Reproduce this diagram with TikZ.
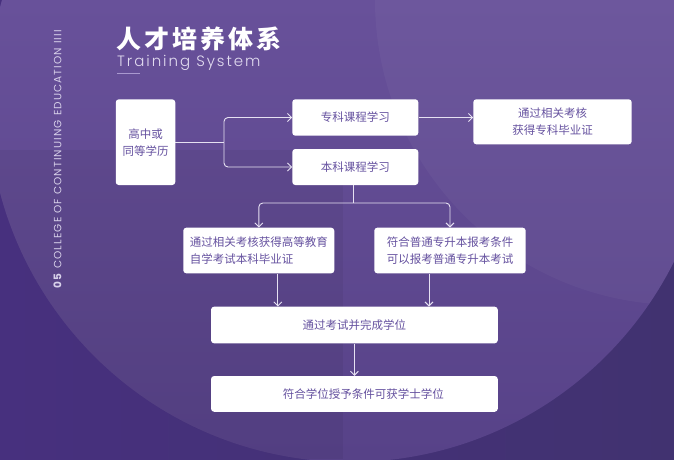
\documentclass[tikz,border=0pt]{standalone}
\usepackage{fontspec}
\setmainfont{Poppins}
\newfontfamily\cjk{Noto Sans CJK SC}
\newfontfamily\popl{Poppins Light}
\usetikzlibrary{arrows.meta}
\definecolor{bgBL}{HTML}{47307E}
\definecolor{bgBR}{HTML}{413270}
\definecolor{cTop}{HTML}{68519A}
\definecolor{cBot}{HTML}{574288}
\definecolor{txt}{HTML}{65519F}
\definecolor{lineC}{HTML}{E6E1F2}
\definecolor{subC}{HTML}{E2DCF0}
\definecolor{vertC}{HTML}{D8D1EA}
\definecolor{dashC}{HTML}{A999CF}
\tikzset{
  box/.style={fill=white, rounded corners=3pt, inner sep=0pt, text=txt,
    font=\cjk\fontsize{11.5}{17}\selectfont},
  arr/.style={draw=lineC, line width=0.9pt, -{Straight Barb[length=4pt,width=8pt]}},
  ln/.style={draw=lineC, line width=0.9pt},
}
\begin{document}
\begin{tikzpicture}[x=1pt,y=-1pt]
\useasboundingbox (0,0) rectangle (674,459);
% background
\shade[left color=bgBL, right color=bgBR] (0,0) rectangle (674,459);
\begin{scope}
  \clip (0,0) rectangle (674,459);
  \clip (350,100) circle[radius=362];
  \shade[top color=cTop, bottom color=cBot] (0,0) rectangle (674,459);
  \fill[black, opacity=0.05] (0,150) rectangle (343,459);
  \fill[white, opacity=0.035] (680,0) circle[radius=305];
\end{scope}
% side label
\node[rotate=90, anchor=west, inner sep=0pt, text=vertC,
  font=\fontsize{10.5}{10.5}\selectfont\addfontfeature{LetterSpace=11}] (side) at (57.5,289)
  {\textbf{05} COLLEGE OF CONTINUING EDUCATION IIII};
% title
\node[anchor=west, inner sep=0pt, text=white,
  font=\cjk\bfseries\fontsize{25}{25}\selectfont\addfontfeature{LetterSpace=12}] (title) at (116,39) {人才培养体系};
\node[anchor=base west, inner sep=0pt, text=subC,
  font=\popl\fontsize{15}{15}\selectfont\addfontfeature{LetterSpace=13}] (sub) at (117,66.7) {Training System};
\coordinate (u1) at (117,73.3);
\coordinate (u2) at (140,73.3);
\draw[dashC, line width=1.4pt] (u1) -- (u2);
% boxes
\node[box, minimum width=59.5pt, minimum height=85.7pt, align=center] (A) at (145.5,142.2) {高中或\\同等学历};
\node[box, minimum width=126pt, minimum height=36.4pt] (B) at (355.3,117.5) {专科课程学习};
\node[box, minimum width=126pt, minimum height=36pt] (C) at (355.3,167) {本科课程学习};
\node[box, minimum width=158.4pt, minimum height=45pt, align=center] (D) at (552.5,121.8) {通过相关考核\\获得专科毕业证};
\node[box, minimum width=151pt, minimum height=45.6pt, align=left] (E) at (258.8,250.5) {通过相关考核获得高等教育\\自学考试本科毕业证};
\node[box, minimum width=151.4pt, minimum height=45.6pt, align=center] (F) at (450,250.5) {符合普通专升本报考条件\\可以报考普通专升本考试};
\node[box, minimum width=286.7pt, minimum height=36.6pt] (G) at (354.4,325) {通过考试并完成学位};
\node[box, minimum width=286.7pt, minimum height=35.7pt] (H) at (354.4,393.9) {\hspace{18pt}符合学位授予条件可获学士学位};
% connectors
\coordinate (j) at (224,142.5);
\draw[ln] (A.east |- j) -- (j);
\draw[arr, rounded corners=4pt] (j) |- (B.west);
\draw[arr, rounded corners=4pt] (j) |- (C.west);
\draw[arr] (B.east) -- (B.east -| D.west);
\coordinate (k) at (353,203);
\draw[ln] (C.south -| k) -- (k);
\draw[arr, rounded corners=4pt] (k) -| (E.north);
\draw[arr, rounded corners=4pt] (k) -| (F.north);
\draw[arr] ([xshift=19pt]E.south) -- ([xshift=19pt]E.south |- G.north);
\draw[arr] ([xshift=-21pt]F.south) -- ([xshift=-21pt]F.south |- G.north);
\draw[arr] (G.south) -- (H.north);
\end{tikzpicture}
\end{document}
